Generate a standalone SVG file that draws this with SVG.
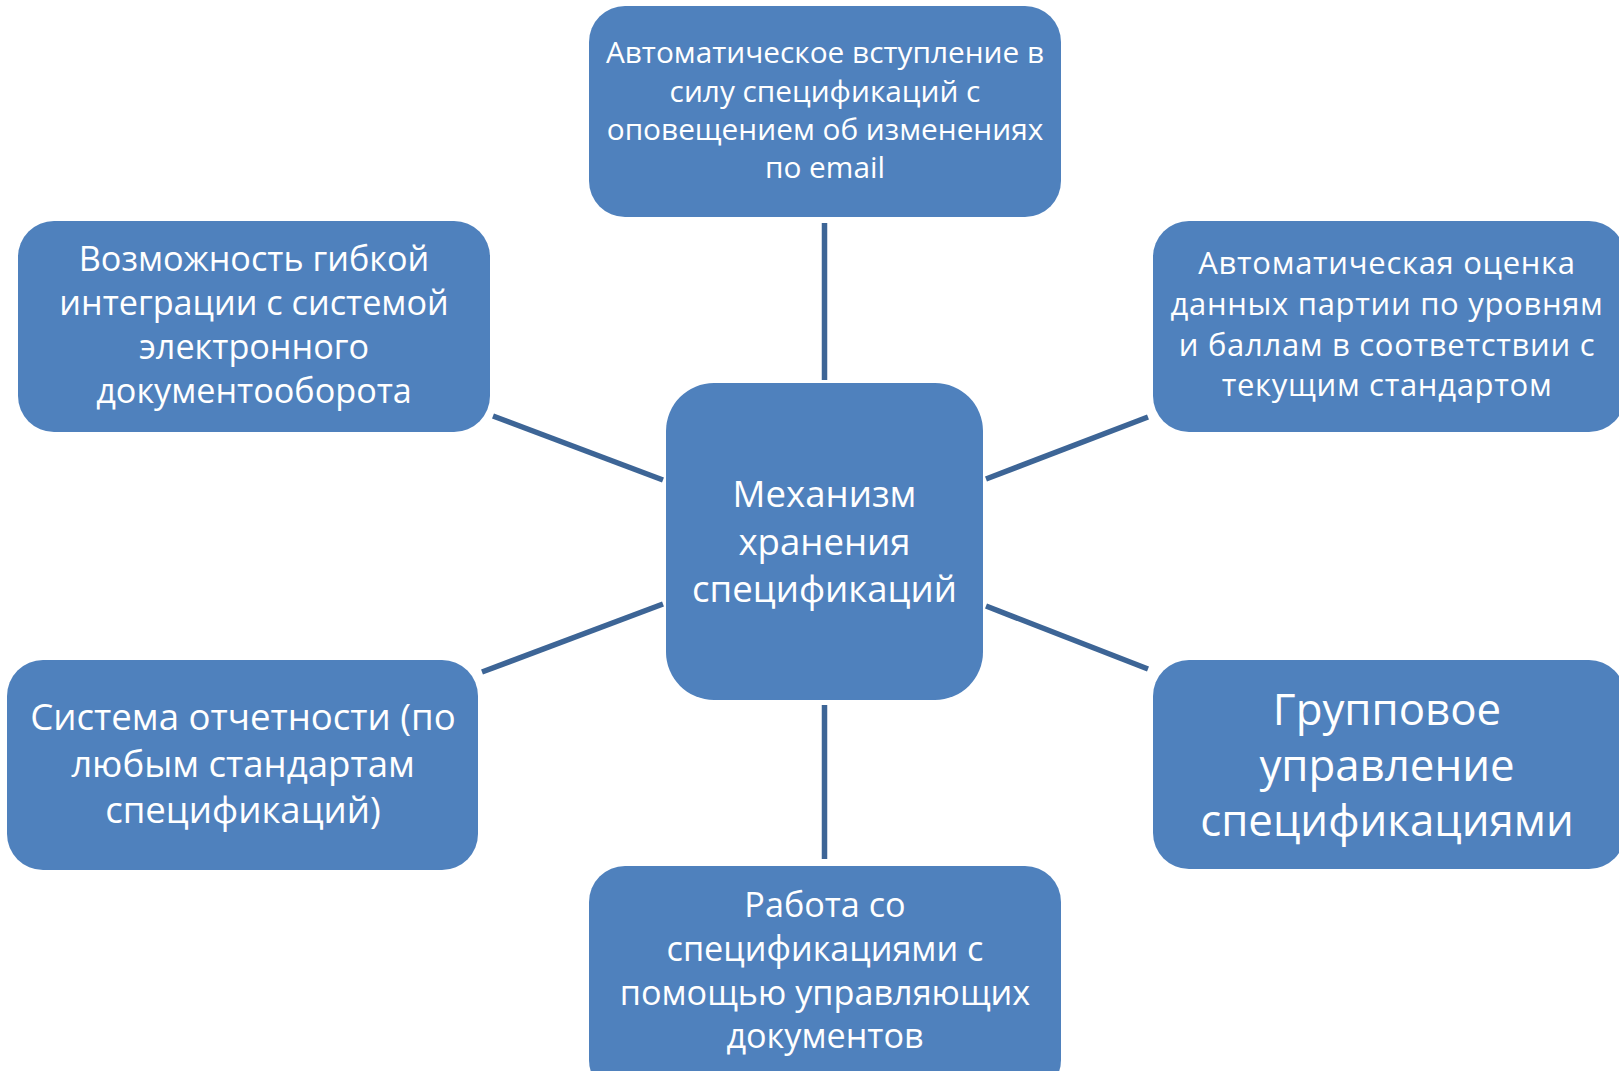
<svg xmlns="http://www.w3.org/2000/svg" width="1619" height="1071" viewBox="0 0 1619 1071">
<style>
.box{fill:#4f81bd;}
.t{fill:#ffffff;font-family:"Open Sans","Noto Sans","DejaVu Sans",sans-serif;text-anchor:middle;}
.c{stroke:#3d6596;stroke-width:5.5;fill:none;}
</style>
<rect width="1619" height="1071" fill="#ffffff"/>
<g id="connectors">
<line class="c" x1="824.5" y1="223" x2="824.5" y2="380"/>
<line class="c" x1="824.5" y1="705" x2="824.5" y2="859"/>
<line class="c" x1="493" y1="416" x2="663" y2="480"/>
<line class="c" x1="986" y1="479" x2="1148" y2="417"/>
<line class="c" x1="482" y1="672" x2="663" y2="604"/>
<line class="c" x1="986" y1="606" x2="1148" y2="669"/>
</g>
<g id="node-top">
<rect class="box" x="589" y="6" width="472" height="211" rx="36"/>
<text class="t" font-size="29.8"><tspan x="825" y="63">Автоматическое вступление в</tspan><tspan x="825" y="101.5">силу спецификаций с</tspan><tspan x="825" y="140">оповещением об изменениях</tspan><tspan x="825" y="178">по email</tspan></text>
</g>
<g id="node-top-left">
<rect class="box" x="18" y="221" width="472" height="211" rx="36"/>
<text class="t" font-size="34.2"><tspan x="254" y="271">Возможность гибкой</tspan><tspan x="254" y="315">интеграции с системой</tspan><tspan x="254" y="359">электронного</tspan><tspan x="254" y="403">документооборота</tspan></text>
</g>
<g id="node-top-right">
<rect class="box" x="1153" y="221" width="472" height="211" rx="36"/>
<text class="t" font-size="31" letter-spacing="0.7"><tspan x="1387" y="274">Автоматическая оценка</tspan><tspan x="1387" y="315">данных партии по уровням</tspan><tspan x="1387" y="356">и баллам в соответствии с</tspan><tspan x="1387" y="396">текущим стандартом</tspan></text>
</g>
<g id="node-center">
<rect class="box" x="666" y="383" width="317" height="317" rx="48"/>
<text class="t" font-size="36.6"><tspan x="824.5" y="507">Механизм</tspan><tspan x="824.5" y="554.5">хранения</tspan><tspan x="824.5" y="602">спецификаций</tspan></text>
</g>
<g id="node-bottom-left">
<rect class="box" x="7" y="660" width="471" height="210" rx="36"/>
<text class="t" font-size="36.6"><tspan x="243" y="730">Система отчетности (по</tspan><tspan x="243" y="777">любым стандартам</tspan><tspan x="243" y="823">спецификаций)</tspan></text>
</g>
<g id="node-bottom-right">
<rect class="box" x="1153" y="660" width="472" height="209" rx="36"/>
<text class="t" font-size="43.8"><tspan x="1387" y="725">Групповое</tspan><tspan x="1387" y="781">управление</tspan><tspan x="1387" y="836">спецификациями</tspan></text>
</g>
<g id="node-bottom">
<rect class="box" x="589" y="866" width="472" height="230" rx="36"/>
<text class="t" font-size="34.2"><tspan x="825" y="917">Работа со</tspan><tspan x="825" y="961">спецификациями с</tspan><tspan x="825" y="1005">помощью управляющих</tspan><tspan x="825" y="1048">документов</tspan></text>
</g>
</svg>
